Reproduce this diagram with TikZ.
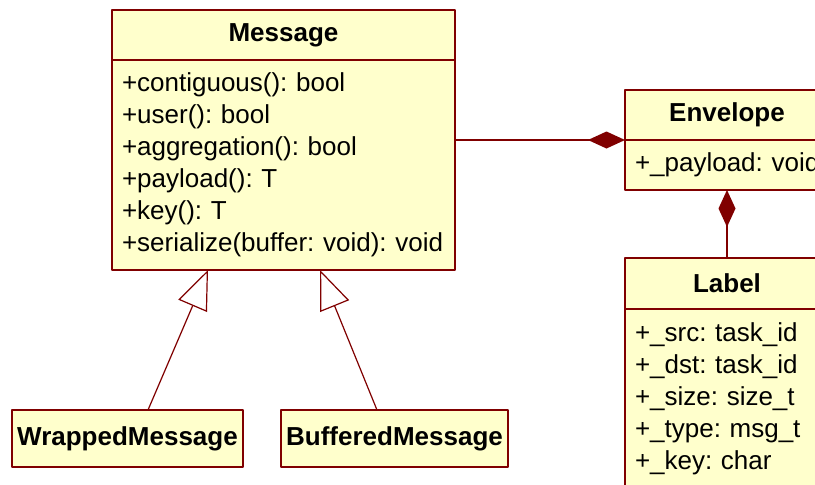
\documentclass[tikz,border=0pt]{standalone}
\usepackage{fontspec}
\setmainfont{Liberation Sans}
\usetikzlibrary{positioning,arrows.meta}
\definecolor{umlfill}{HTML}{FFFFCC}
\definecolor{umlline}{HTML}{800000}
\begin{document}
\begin{tikzpicture}[x=1pt,y=-1pt,line join=round,font=\fontsize{26}{32}\selectfont\frenchspacing,
	cls/.style={draw=umlline,fill=umlfill,line width=1.5pt,outer sep=0pt,inner sep=0pt},
	head/.style={cls,font=\fontsize{26}{32}\selectfont\bfseries,minimum height=50pt},
	attrs/.style={cls,align=left,inner xsep=10pt,text width=#1},
	comp/.style={draw=umlline,line width=1.5pt,-{Diamond[length=37pt,width=17pt,fill=umlline]}},
	inherit/.style={draw=umlline,line width=1.2pt,-{Triangle[open,length=39pt,width=31pt,fill=white]}}]
	\clip (0,0) rectangle (815,485);
	\fill[white] (0,0) rectangle (815,485);
	% classes
	\node[head,minimum width=343pt] (msg) at (283.5,35) {Message};
	\node[attrs=323pt,minimum height=210pt,below=0pt of msg] (msgattr) {+contiguous(): bool\\+user(): bool\\+aggregation(): bool\\+payload(): T\\+key(): T\\+serialize(buffer: void): void};
	\node[head,minimum width=204pt] (env) at (727,115) {Envelope};
	\node[attrs=184pt,minimum height=50pt,below=0pt of env] (envattr) {\mbox{+\_payload: void}};
	\node[head,minimum width=204pt,minimum height=51pt] (lbl) at (727,283.5) {Label};
	\node[attrs=184pt,minimum height=180pt,below=0pt of lbl] (lblattr) {+\_src: task\_id\\+\_dst: task\_id\\+\_size: size\_t\\+\_type: msg\_t\\+\_key: char};
	\node[head,minimum width=231pt,minimum height=57pt] (wrapped) at (127.5,438.5) {WrappedMessage};
	\node[head,minimum width=227pt,minimum height=57pt,right=38pt of wrapped] (buffered) {BufferedMessage};
	% relations
	\draw[comp] (msgattr.east |- env.south) -- (env.south west);
	\draw[comp] (lbl.north) -- (envattr.south);
	\draw[inherit] ([xshift=20.5pt]wrapped.north) -- ([xshift=-75.5pt]msgattr.south);
	\draw[inherit] ([xshift=-17.5pt]buffered.north) -- ([xshift=36.5pt]msgattr.south);
\end{tikzpicture}
\end{document}
